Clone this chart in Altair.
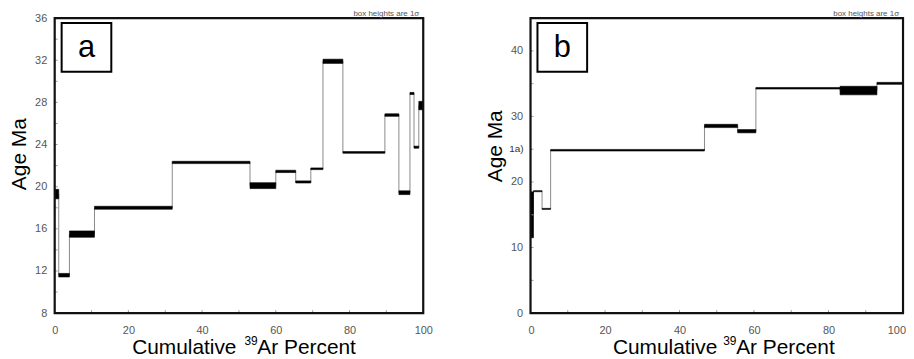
import altair as alt
import pandas as pd

# ---------------- data ----------------
# panel a: step boundaries (cumulative 39Ar %), ages (Ma), 1-sigma errors
bounds_a = [0, 1.1, 4.0, 10.8, 31.9, 53.0, 60.0, 65.4, 69.5, 72.8, 78.2, 89.6, 93.4, 96.4, 97.5, 98.8, 100]
ages_a = [19.3, 11.6, 15.5, 18.0, 22.3, 20.1, 21.45, 20.45, 21.7, 31.9, 23.25, 26.8, 19.43, 28.85, 23.75, 27.7]
err_a = [0.45, 0.17, 0.3, 0.14, 0.11, 0.28, 0.11, 0.1, 0.08, 0.2, 0.08, 0.12, 0.18, 0.1, 0.1, 0.4]

# panel b
bounds_b = [0, 0.8, 3.1, 5.4, 46.7, 55.6, 60.5, 83.1, 93.0, 100]
ages_b = [15.0, 18.6, 15.9, 24.85, 28.55, 27.75, 34.3, 33.95, 35.05]
err_b = [3.5, 0.08, 0.08, 0.12, 0.25, 0.25, 0.12, 0.65, 0.15]

x_labels = [0, 20, 40, 60, 80, 100]
x_minor = [0, 10, 20, 30, 40, 50, 60, 70, 80, 90, 100]
y_labels_a = [8, 12, 16, 20, 24, 28, 32, 36]
y_minor_a = list(range(8, 37, 2))
y_labels_b = [0, 10, 20, 30, 40]
y_minor_b = list(range(0, 46, 5))

FONT = "Liberation Sans"
GRAY = "#555555"


def steps_df(bounds, ages, errs):
    return pd.DataFrame({
        "x0": bounds[:-1], "x1": bounds[1:],
        "lo": [a - e for a, e in zip(ages, errs)],
        "hi": [a + e for a, e in zip(ages, errs)],
    })


def conn_df(bounds, ages):
    return pd.DataFrame({
        "x": bounds[1:-1], "y0": ages[:-1], "y1": ages[1:],
    })


def panel(bounds, ages, errs, ydom, ylabels, yminor, letter, W, H,
          ytitle_y, xt_right, sup_left, ar_left, extra_label=None,
          anchor=False, flush=False):
    xs = alt.Scale(domain=[0, 100], nice=False, zero=False)
    ys = alt.Scale(domain=ydom, nice=False, zero=False)
    if flush:
        xax = alt.Axis(values=x_labels, ticks=False, domain=False, grid=False,
                       labelFontSize=11, labelColor=GRAY, labelPadding=12,
                       labelFont=FONT, title=None, labelFlush=True,
                       labelFlushOffset=2.5, labelOverlap=False)
    else:
        xax = alt.Axis(values=x_labels, ticks=False, domain=False, grid=False,
                       labelFontSize=11, labelColor=GRAY, labelPadding=12,
                       labelFont=FONT, title=None, labelFlush=False,
                       labelOverlap=False)
    yax = alt.Axis(values=ylabels, ticks=False, domain=False, grid=False,
                   labelFontSize=11, labelColor=GRAY, labelPadding=8,
                   labelFont=FONT, title=None, labelFlush=False,
                   labelOverlap=False)

    conn = alt.Chart(conn_df(bounds, ages)).mark_rule(
        color="#8a8a8a", strokeWidth=1).encode(
        x=alt.X("x:Q", scale=xs, axis=xax),
        y=alt.Y("y0:Q", scale=ys, axis=yax),
        y2="y1:Q")

    boxes = alt.Chart(steps_df(bounds, ages, errs)).mark_rect(
        color="black", stroke="black", strokeWidth=0.6).encode(
        x=alt.X("x0:Q", scale=xs), x2="x1:Q",
        y=alt.Y("lo:Q", scale=ys), y2="hi:Q")

    xt = alt.Chart(pd.DataFrame({"v": x_minor})).mark_rule(
        color="#999999", strokeWidth=1).encode(
        x=alt.X("v:Q", scale=xs), y=alt.value(H - 3), y2=alt.value(H))

    yt = alt.Chart(pd.DataFrame({"v": yminor})).mark_rule(
        color="#999999", strokeWidth=1).encode(
        y=alt.Y("v:Q", scale=ys), x=alt.value(0), x2=alt.value(3))

    one = pd.DataFrame({"k": [0]})
    frame = alt.Chart(one).mark_rect(
        fill=None, fillOpacity=0, stroke="#111111", strokeWidth=2.2).encode(
        x=alt.value(0), x2=alt.value(W), y=alt.value(0), y2=alt.value(H))

    lbox = alt.Chart(one).mark_rect(
        fill="white", stroke="black", strokeWidth=2).encode(
        x=alt.value(7), x2=alt.value(57), y=alt.value(5), y2=alt.value(54))
    ltxt = alt.Chart(one).mark_text(
        text=letter, fontSize=31, font=FONT, color="black",
        baseline="middle", align="center").encode(
        x=alt.value(32), y=alt.value(30))

    note = alt.Chart(one).mark_text(
        text="box heights are 1σ", fontSize=8, font=FONT, color=GRAY,
        align="right", baseline="alphabetic").encode(
        x=alt.value(W - 4), y=alt.value(-2))

    ytitle = alt.Chart(one).mark_text(
        text="Age Ma", fontSize=21, font=FONT, color="black", angle=270,
        align="center", baseline="middle").encode(
        x=alt.value(-35), y=alt.value(ytitle_y))

    xt1 = alt.Chart(one).mark_text(
        text="Cumulative", fontSize=21, font=FONT, color="black",
        align="right", baseline="alphabetic").encode(
        x=alt.value(xt_right), y=alt.value(H + 41))
    xt2 = alt.Chart(one).mark_text(
        text="39", fontSize=12, font=FONT, color="black",
        align="left", baseline="alphabetic").encode(
        x=alt.value(sup_left), y=alt.value(H + 32))
    xt3 = alt.Chart(one).mark_text(
        text="Ar Percent", fontSize=21, font=FONT, color="black",
        align="left", baseline="alphabetic").encode(
        x=alt.value(ar_left), y=alt.value(H + 41))

    layers = [conn, boxes, xt, yt, frame, lbox, ltxt, note, ytitle, xt1, xt2, xt3]
    if anchor:
        # invisible layout anchor fixing the left edge of the figure
        layers.append(alt.Chart(one).mark_rule(
            stroke="white", strokeOpacity=0, strokeWidth=1).encode(
            x=alt.value(-46.5), y=alt.value(0), y2=alt.value(H)))
    if extra_label is not None:
        txt, val = extra_label
        lab = alt.Chart(pd.DataFrame({"v": [val]})).mark_text(
            text=txt, fontSize=10, font=FONT, color="#333333",
            align="right", baseline="middle").encode(
            y=alt.Y("v:Q", scale=ys), x=alt.value(-7))
        layers.append(lab)
    return alt.layer(*layers).properties(width=W, height=H)


pa = panel(bounds_a, ages_a, err_a, [8, 36], y_labels_a, y_minor_a, "a",
           371, 297, 137, 183, 191, 204, anchor=True)
pb = panel(bounds_b, ages_b, err_b, [0, 45], y_labels_b, y_minor_b, "b",
           375, 297, 129, 188, 194, 207, extra_label=("1a)", 25), flush=True)

chart = alt.hconcat(pa, pb, spacing=108, bounds="flush").properties(
    padding={"left": 0, "top": 0, "right": 0, "bottom": 0}
).configure_view(stroke=None).configure(font=FONT)

chart.save("out.html", embed_options={"renderer": "svg", "actions": False})
